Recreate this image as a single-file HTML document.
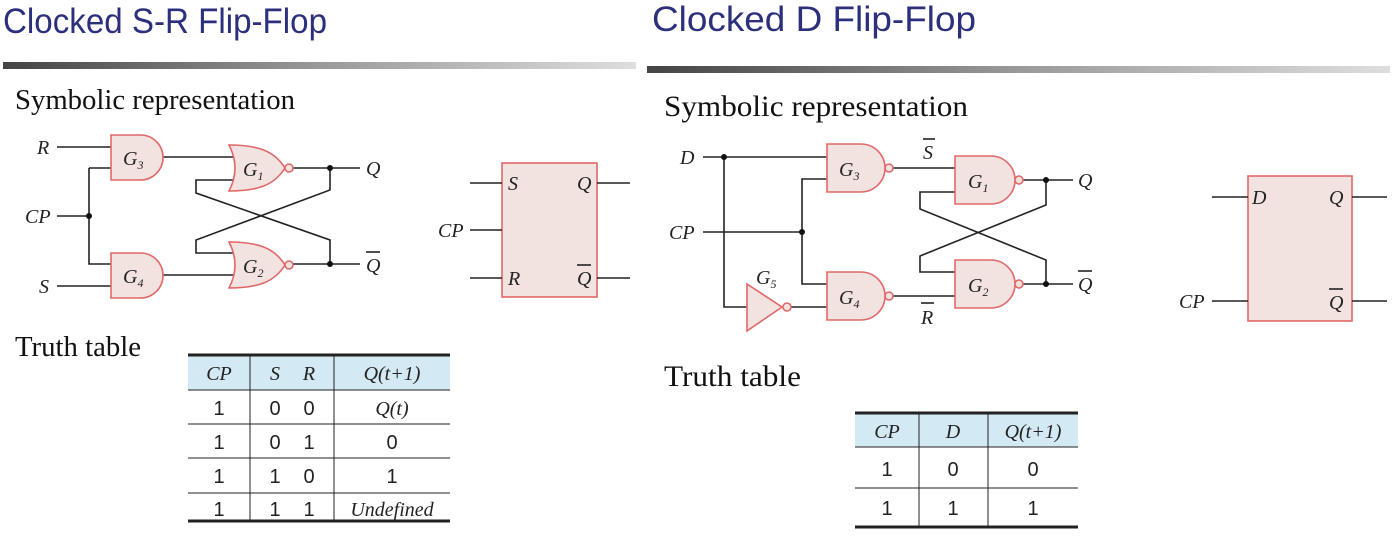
<!DOCTYPE html>
<html><head><meta charset="utf-8"><style>
html,body{margin:0;padding:0;background:#fff;}
svg{display:block}
.t{font-family:"Liberation Sans Narrow","Liberation Sans",sans-serif;fill:#2b2f7c;font-size:35px}
.s{font-family:"Liberation Serif",serif;font-size:28px;fill:#111}
.s2{font-family:"Liberation Serif",serif;font-size:30px;fill:#111}
.l{font-family:"Liberation Serif",serif;font-style:italic;font-size:20px;fill:#222}
.g{font-family:"Liberation Serif",serif;font-style:italic;font-size:20px;fill:#222}
.n{font-family:"Liberation Sans",sans-serif;font-size:20px;fill:#222}
.w{stroke:#222;stroke-width:1.6;fill:none}
.gate{fill:#f3e3e0;stroke:#e06868;stroke-width:1.6}
</style></head><body>
<svg width="1394" height="538" viewBox="0 0 1394 538" xmlns="http://www.w3.org/2000/svg">
<defs>
<linearGradient id="bar" x1="0" x2="1" y1="0" y2="0">
<stop offset="0" stop-color="#444"/><stop offset="0.5" stop-color="#999"/><stop offset="1" stop-color="#dedede"/></linearGradient>
</defs>
<text class="t" x="3" y="33" textLength="324" lengthAdjust="spacingAndGlyphs">Clocked S-R Flip-Flop</text>
<text class="t" x="652" y="31" textLength="324" lengthAdjust="spacingAndGlyphs">Clocked D Flip-Flop</text>
<rect x="3" y="62" width="633" height="7" fill="url(#bar)"/>
<rect x="647" y="66" width="743" height="7" fill="url(#bar)"/>
<text class="s" x="15" y="109" textLength="280" lengthAdjust="spacingAndGlyphs">Symbolic representation</text>
<text class="s2" x="664" y="116" textLength="304" lengthAdjust="spacingAndGlyphs">Symbolic representation</text>
<text class="s" x="15" y="356" textLength="126" lengthAdjust="spacingAndGlyphs">Truth table</text>
<text class="s2" x="664" y="386" textLength="137" lengthAdjust="spacingAndGlyphs">Truth table</text>

<!-- Left circuit -->
<g class="w">
<path d="M57,147H111"/><path d="M89,168H111M89,168V264H111M57,216H89"/>
<path d="M57,286H111"/>
<path d="M163,157H233"/><path d="M163,275H233"/>
<path d="M293,168H360"/><path d="M293,264H360"/>
<path d="M233,180H196V193L330,240V264"/>
<path d="M330,168V190L196,240V253H233"/>
</g>
<circle cx="89" cy="216" r="3" fill="#111"/>
<circle cx="330" cy="168" r="3" fill="#111"/>
<circle cx="330" cy="264" r="3" fill="#111"/>
<path class="gate" d="M111,135H140.5A22.5,22.5 0 0 1 140.5,180H111Z"/>
<path class="gate" d="M111,253H140.5A22.5,22.5 0 0 1 140.5,298H111Z"/>
<path class="gate" d="M229,145C260,145 275,152 285,168C275,184 260,191 229,191Q241,168 229,145Z"/>
<path class="gate" d="M229,242C260,242 275,249 285,265C275,281 260,288 229,288Q241,265 229,242Z"/>
<circle class="gate" cx="289" cy="168" r="4"/>
<circle class="gate" cx="289" cy="265" r="4"/>
<text class="l" x="37" y="154">R</text>
<text class="l" x="25" y="223">CP</text>
<text class="l" x="39" y="293">S</text>
<text class="l" x="366" y="175">Q</text>
<text class="l" x="366" y="272">Q</text><path class="w" d="M366,252H380"/>
<text class="g" x="123" y="165">G<tspan font-size="12" dy="4">3</tspan></text>
<text class="g" x="123" y="283">G<tspan font-size="12" dy="4">4</tspan></text>
<text class="g" x="243" y="176">G<tspan font-size="12" dy="4">1</tspan></text>
<text class="g" x="243" y="273">G<tspan font-size="12" dy="4">2</tspan></text>

<!-- left symbol -->
<rect class="gate" x="502" y="163" width="95" height="134"/>
<g class="w"><path d="M470,183H502M470,230H502M470,278H502M597,183H630M597,278H630"/></g>
<text class="l" x="508" y="190">S</text>
<text class="l" x="508" y="285">R</text>
<text class="l" x="577" y="190">Q</text>
<text class="l" x="577" y="285">Q</text><path class="w" d="M577,265H591"/>
<text class="l" x="438" y="237">CP</text>

<!-- Right circuit -->
<g class="w">
<path d="M703,157H827"/><path d="M724,157V307H747"/>
<path d="M703,232H802"/><path d="M827,179H802V284H827"/>
<path d="M791,307H827"/>
<path d="M893,168H955"/><path d="M893,296H955"/>
<path d="M1023,180H1073"/><path d="M1023,284H1073"/>
<path d="M955,192H920V209L1046,260V284"/>
<path d="M1046,180V205L920,256V272H955"/>
</g>
<circle cx="724" cy="157" r="3" fill="#111"/>
<circle cx="802" cy="232" r="3" fill="#111"/>
<circle cx="1046" cy="180" r="3" fill="#111"/>
<circle cx="1046" cy="284" r="3" fill="#111"/>
<path class="gate" d="M827,144H861A24,24 0 0 1 861,192H827Z"/>
<path class="gate" d="M827,272H861A24,24 0 0 1 861,320H827Z"/>
<path class="gate" d="M955,156H991A24,24 0 0 1 991,204H955Z"/>
<path class="gate" d="M955,260H991A24,24 0 0 1 991,308H955Z"/>
<path class="gate" d="M747,284L782,307L747,331Z"/>
<circle class="gate" cx="889" cy="168" r="4"/>
<circle class="gate" cx="889" cy="296" r="4"/>
<circle class="gate" cx="1019" cy="180" r="4"/>
<circle class="gate" cx="1019" cy="284" r="4"/>
<circle class="gate" cx="787" cy="307" r="4"/>
<text class="l" x="680" y="164">D</text>
<text class="l" x="669" y="239">CP</text>
<text class="l" x="1078" y="187">Q</text>
<text class="l" x="1078" y="291">Q</text><path class="w" d="M1078,271H1092"/>
<text class="l" x="923" y="159">S</text><path class="w" d="M923,139H935"/>
<text class="l" x="921" y="324">R</text><path class="w" d="M921,303H934"/>
<text class="g" x="756" y="284">G<tspan font-size="12" dy="4">5</tspan></text>
<text class="g" x="839" y="176">G<tspan font-size="12" dy="4">3</tspan></text>
<text class="g" x="839" y="304">G<tspan font-size="12" dy="4">4</tspan></text>
<text class="g" x="968" y="188">G<tspan font-size="12" dy="4">1</tspan></text>
<text class="g" x="968" y="292">G<tspan font-size="12" dy="4">2</tspan></text>

<!-- right symbol -->
<rect class="gate" x="1248" y="176" width="104" height="145"/>
<g class="w"><path d="M1212,197H1248M1212,301H1248M1352,197H1387M1352,301H1387"/></g>
<text class="l" x="1252" y="204">D</text>
<text class="l" x="1329" y="204">Q</text>
<text class="l" x="1329" y="309">Q</text><path class="w" d="M1329,289H1343"/>
<text class="l" x="1179" y="308">CP</text>

<!-- left table -->
<rect x="188" y="355" width="262" height="35" fill="#d3e9f3"/>
<g stroke="#222" fill="none">
<path d="M188,355H450M188,521H450" stroke-width="3"/>
<path d="M188,390H450M188,424H450M188,458H450M188,493H450" stroke-width="1"/>
<path d="M250,355V521M334,355V521" stroke-width="1"/>
</g>
<g class="l" text-anchor="middle">
<text x="219" y="380">CP</text><text x="275" y="380">S</text><text x="309" y="380">R</text><text x="392" y="380">Q(t+1)</text>
<text x="392" y="415">Q(t)</text><text x="392" y="516">Undefined</text>
</g>
<g class="n" text-anchor="middle">
<text x="219" y="415">1</text><text x="275" y="415">0</text><text x="309" y="415">0</text>
<text x="219" y="449">1</text><text x="275" y="449">0</text><text x="309" y="449">1</text><text x="392" y="449">0</text>
<text x="219" y="483">1</text><text x="275" y="483">1</text><text x="309" y="483">0</text><text x="392" y="483">1</text>
<text x="219" y="516">1</text><text x="275" y="516">1</text><text x="309" y="516">1</text>
</g>

<!-- right table -->
<rect x="855" y="413" width="223" height="34" fill="#d3e9f3"/>
<g stroke="#222" fill="none">
<path d="M855,413H1078M855,527H1078" stroke-width="3"/>
<path d="M855,447H1078M855,488H1078" stroke-width="1"/>
<path d="M919,413V527M988,413V527" stroke-width="1"/>
</g>
<g class="l" text-anchor="middle">
<text x="887" y="438">CP</text><text x="953" y="438">D</text><text x="1033" y="438">Q(t+1)</text>
</g>
<g class="n" text-anchor="middle">
<text x="887" y="476">1</text><text x="953" y="476">0</text><text x="1033" y="476">0</text>
<text x="887" y="515">1</text><text x="953" y="515">1</text><text x="1033" y="515">1</text>
</g>
</svg>
</body></html>
